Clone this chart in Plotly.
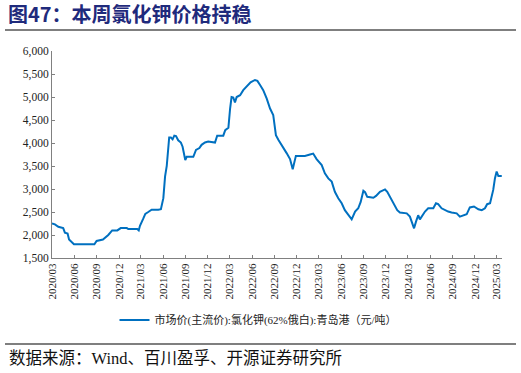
import plotly.graph_objects as go

dates = [
    "2020-03-01","2020-03-13","2020-03-27","2020-04-16","2020-04-23","2020-05-04","2020-05-10","2020-05-27","2020-05-30",
    "2020-08-22","2020-08-31","2020-09-26","2020-10-09","2020-10-18","2020-11-03","2020-11-24","2020-12-08",
    "2021-01-02","2021-01-08","2021-02-14","2021-02-20","2021-02-25","2021-03-11","2021-03-19","2021-03-31",
    "2021-04-14","2021-05-11","2021-05-22","2021-06-01","2021-06-08","2021-06-15","2021-06-25","2021-07-02",
    "2021-07-09","2021-07-16","2021-07-23","2021-08-01","2021-08-12","2021-08-19","2021-08-25","2021-08-30",
    "2021-09-05","2021-10-02","2021-10-13","2021-10-27","2021-11-05","2021-11-19","2021-12-02","2021-12-30",
    "2022-01-08","2022-02-02","2022-02-10","2022-02-23","2022-03-02","2022-03-08","2022-03-15","2022-03-22",
    "2022-03-29","2022-04-12","2022-04-25","2022-05-12","2022-05-25","2022-06-12","2022-06-22","2022-07-03",
    "2022-07-16","2022-07-30","2022-08-13","2022-08-26","2022-09-06","2022-09-16","2022-09-30","2022-10-20",
    "2022-11-03","2022-11-14","2022-11-27","2022-12-14","2023-01-03","2023-01-24","2023-02-06","2023-02-20",
    "2023-03-13","2023-03-26","2023-04-09","2023-04-23","2023-05-06","2023-05-20","2023-06-03","2023-06-16",
    "2023-06-30","2023-07-14","2023-07-28","2023-08-10","2023-08-20","2023-08-31","2023-09-07","2023-09-16",
    "2023-10-11","2023-10-22","2023-11-07","2023-11-28","2023-12-07","2023-12-25","2024-01-08","2024-01-17",
    "2024-01-28","2024-02-25","2024-03-09","2024-03-20","2024-03-26","2024-04-03","2024-04-12","2024-04-19",
    "2024-04-30","2024-05-10","2024-05-23","2024-06-13","2024-06-24","2024-07-03","2024-07-17","2024-07-31",
    "2024-08-13","2024-08-27","2024-09-17","2024-09-30","2024-10-14","2024-10-28","2024-11-10","2024-11-27",
    "2024-12-15","2024-12-29","2025-01-11","2025-01-20","2025-02-01","2025-02-14","2025-02-21","2025-02-28",
    "2025-03-07","2025-03-21",
]
prices = [
    2250,2230,2180,2150,2050,2030,1900,1830,1800,
    1800,1870,1900,1950,2000,2100,2100,2150,
    2150,2130,2130,2100,2200,2360,2460,2500,
    2550,2550,2560,2800,3270,3500,4120,4120,
    4080,4160,4150,4060,4010,3920,3750,3630,
    3700,3700,3850,3890,3960,4010,4030,4010,
    4160,4160,4280,4330,4750,5000,4990,4880,
    5000,5040,5150,5260,5320,5370,5350,5260,
    5150,4970,4750,4610,4170,4070,3960,3780,
    3650,3430,3720,3720,3720,3750,3770,3650,
    3520,3340,3230,3160,2940,2800,2690,2540,
    2430,2340,2510,2580,2720,2960,2930,2830,
    2810,2850,2940,2990,2940,2760,2620,2540,
    2490,2470,2400,2220,2145,2290,2430,2340,
    2430,2510,2580,2580,2690,2670,2580,2540,
    2510,2490,2470,2400,2430,2450,2600,2620,
    2560,2540,2580,2670,2690,2980,3230,3380,
    3280,3280,
]
tick_vals = ["2020-03-01","2020-06-01","2020-09-01","2020-12-01","2021-03-01","2021-06-01","2021-09-01",
             "2021-12-01","2022-03-01","2022-06-01","2022-09-01","2022-12-01","2023-03-01","2023-06-01",
             "2023-09-01","2023-12-01","2024-03-01","2024-06-01","2024-09-01","2024-12-01","2025-03-01"]
tick_text = ["2020/03","2020/06","2020/09","2020/12","2021/03","2021/06","2021/09","2021/12","2022/03",
             "2022/06","2022/09","2022/12","2023/03","2023/06","2023/09","2023/12","2024/03","2024/06",
             "2024/09","2024/12","2025/03"]

series_name = "市场价(主流价):氯化钾(62%俄白):青岛港（元/吨）"
title_text = "图47：本周氯化钾价格持稳"
source_text = "数据来源：Wind、百川盈孚、开源证券研究所"

W, H = 521, 373

def fx(x):
    return x / W

def fy(y):
    return 1 - y / H

serif = "Liberation Serif, Times New Roman, serif"
cjk = "Liberation Serif, Noto Sans CJK SC, serif"

fig = go.Figure()
fig.add_trace(go.Scatter(
    x=dates, y=prices, mode="lines", name=series_name,
    line=dict(color="#0070C0", width=2),
))
# empty helper trace so the frame axes (title / source rules) are drawn
fig.add_trace(go.Scatter(x=[], y=[], xaxis="x2", yaxis="y2", showlegend=False, hoverinfo="skip"))

fig.update_layout(
    width=W, height=H,
    margin=dict(l=0, r=0, t=0, b=0, autoexpand=False),
    paper_bgcolor="white", plot_bgcolor="rgba(0,0,0,0)",
    showlegend=True,
    legend=dict(orientation="h", x=fx(258), xanchor="center", y=fy(320), yanchor="middle",
                font=dict(family=cjk, size=11, color="#222"), bgcolor="rgba(0,0,0,0)",
                itemwidth=30, tracegroupgap=0),
    title=dict(text="<b>" + title_text + "</b>", xref="paper", yref="paper",
               x=fx(8), xanchor="left", y=fy(15), yanchor="middle",
               font=dict(family="Noto Sans CJK SC", size=20, color="#1F2A7C")),
    xaxis=dict(
        domain=[fx(52), fx(502)],
        type="date", range=["2020-03-01", "2025-03-22"],
        tickvals=tick_vals, ticktext=tick_text, tickangle=-90,
        showgrid=False, zeroline=False,
        showline=True, linecolor="#808080", linewidth=1,
        ticks="inside", ticklen=3, tickcolor="#808080",
        tickfont=dict(family=serif, size=11, color="#222"),
    ),
    yaxis=dict(
        domain=[fy(258), fy(51)],
        range=[1500, 6000], dtick=500, tick0=1500, tickformat=",d",
        showgrid=False, zeroline=False,
        showline=True, linecolor="#808080", linewidth=1,
        ticks="inside", ticklen=3, tickcolor="#808080",
        tickfont=dict(family=serif, size=11.5, color="#222"),
    ),
    xaxis2=dict(
        domain=[fx(5), fx(516)], anchor="y2", range=[0, 1],
        showline=True, mirror=True, linecolor="#7F7F7F", linewidth=2,
        showgrid=False, zeroline=False, showticklabels=False, ticks="",
    ),
    yaxis2=dict(
        domain=[fy(343), fy(31)], anchor="x2", range=[0, 1],
        showline=False, showgrid=False, zeroline=False, showticklabels=False, ticks="",
    ),
    annotations=[
        dict(text=source_text, xref="paper", yref="paper", x=fx(7), y=fy(358),
             xanchor="left", yanchor="middle", showarrow=False,
             font=dict(family=cjk, size=16.5, color="#111")),
    ],
)

fig.write_html("out.html", config={"displayModeBar": False, "staticPlot": True},
               post_script="document.body.style.margin='0';document.body.style.overflow='hidden';")
